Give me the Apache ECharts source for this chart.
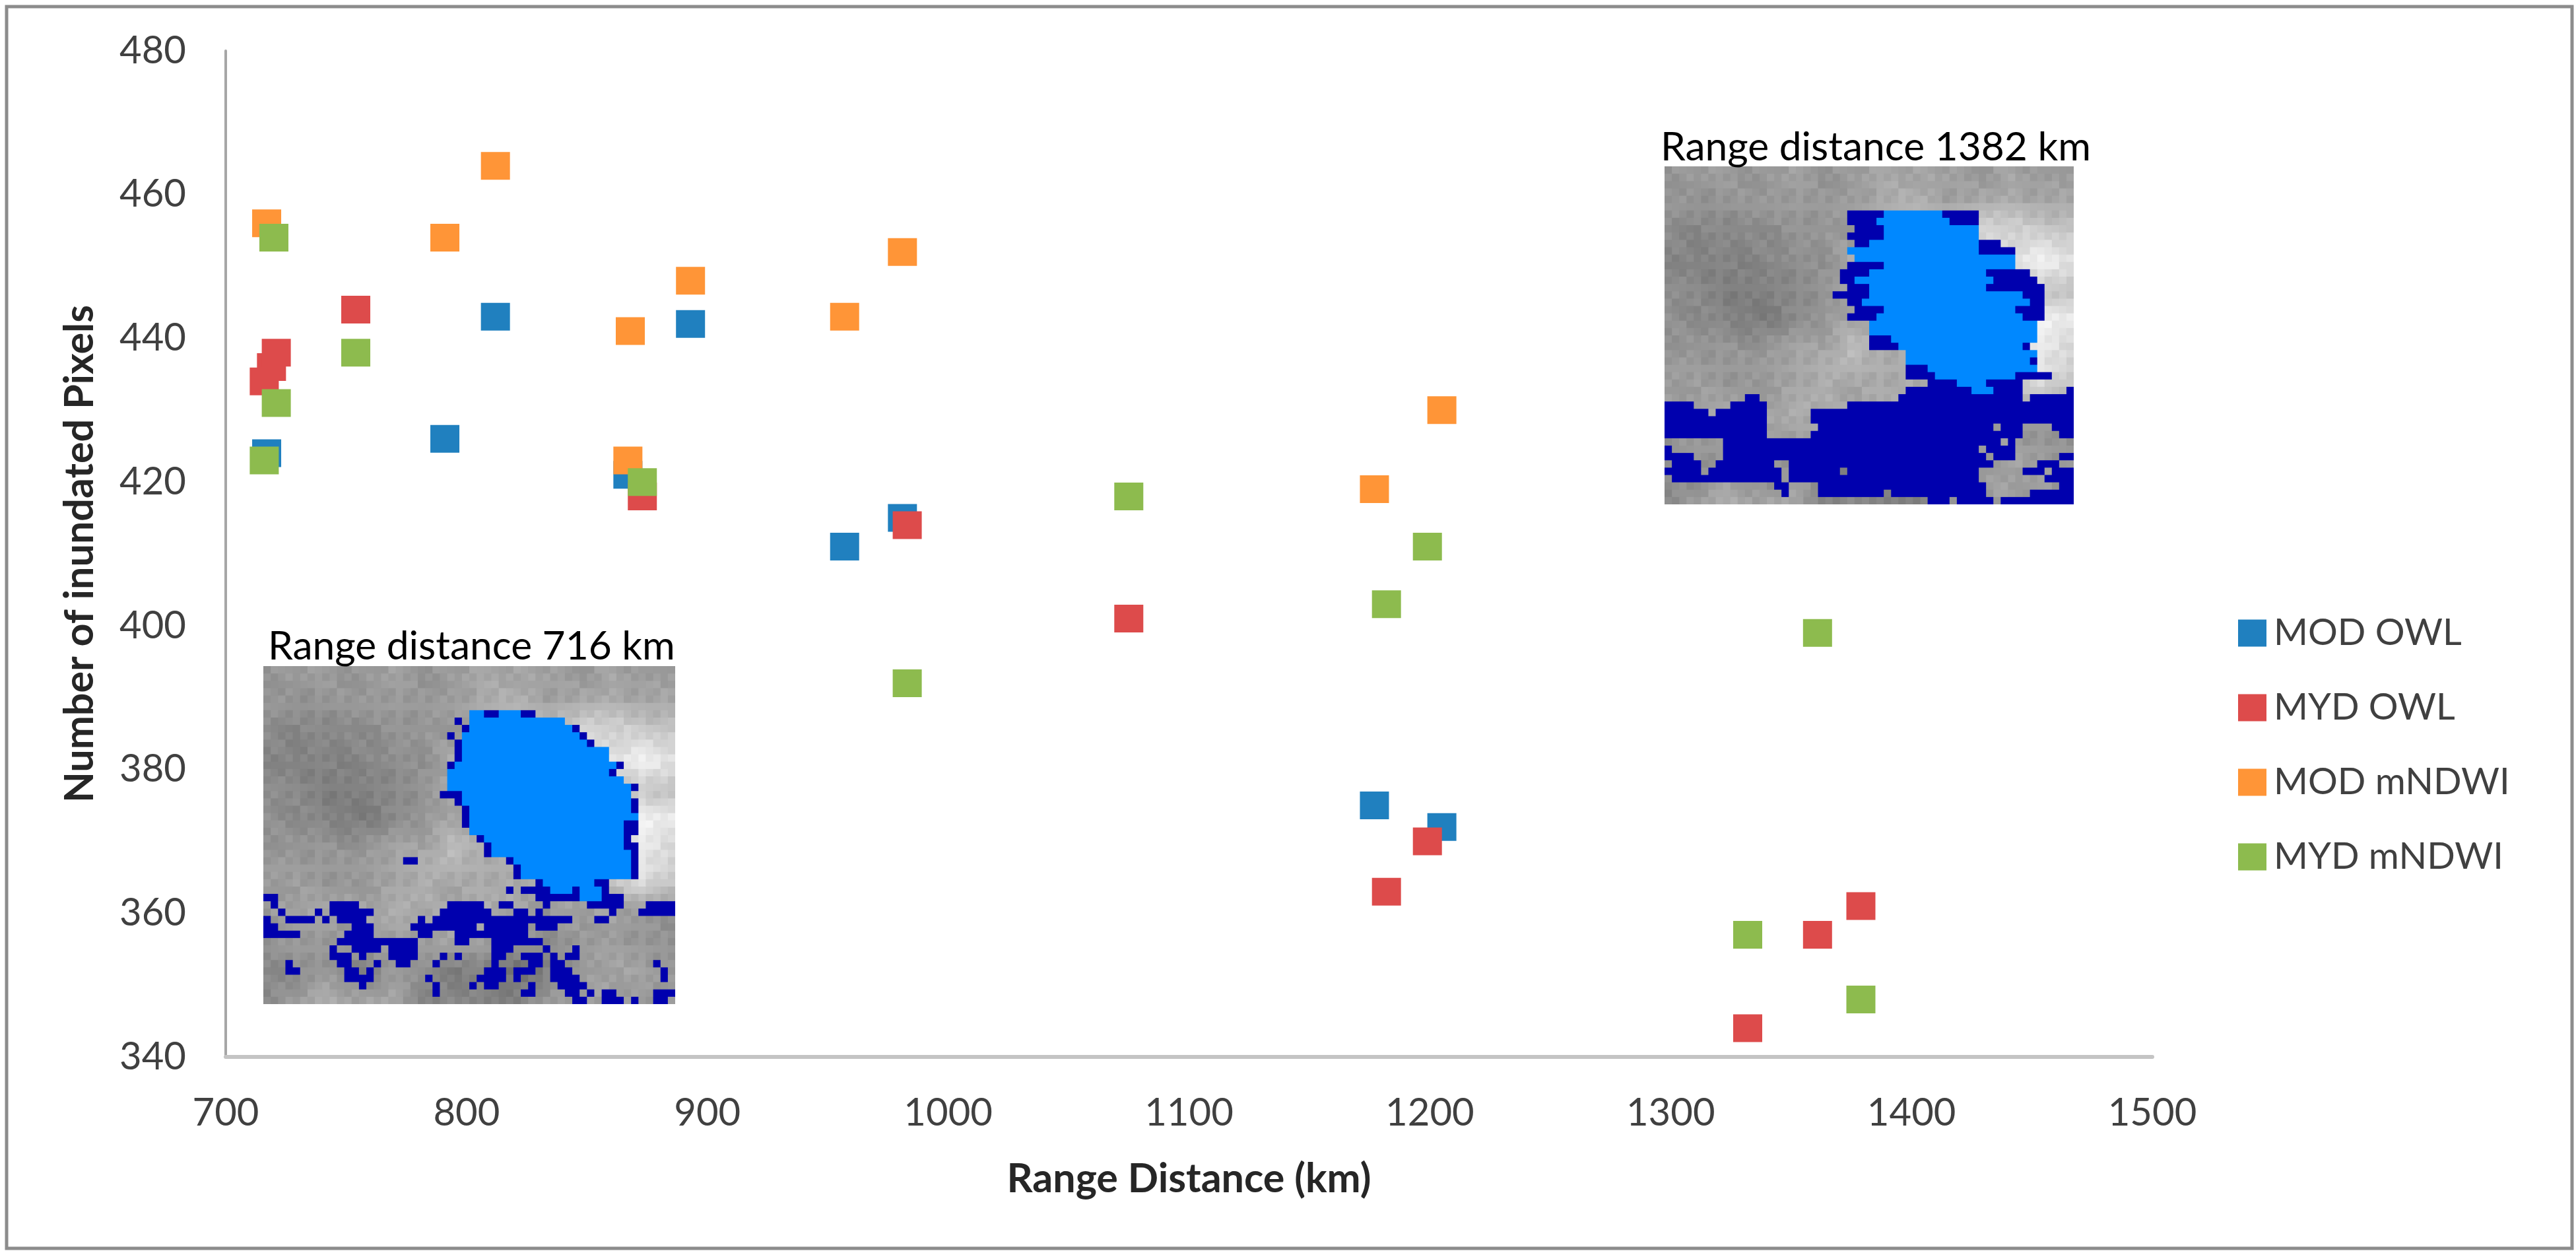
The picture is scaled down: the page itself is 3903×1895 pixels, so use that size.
<!DOCTYPE html>
<html><head><meta charset="utf-8">
<style>html,body{margin:0;padding:0;background:#fff}#c{width:3903px;height:1895px}</style>
<script src="https://cdn.jsdelivr.net/npm/echarts@6/dist/echarts.min.js"></script>
</head><body><div id="c"></div>
<script>
const seriesNames = ['MOD OWL','MYD OWL','MOD mNDWI','MYD mNDWI'];
const modOwl = [[717,424],[791,426],[812,443],[867,421],[893,442],[957,411],[981,415],[1177,375],[1205,372]];
const mydOwl = [[716,434],[719,436],[721,438],[754,444],[873,418],[983,414],[1075,401],[1182,363],[1199,370],[1332,344],[1361,357],[1379,361]];
const modNdwi = [[717,456],[791,454],[812,464],[868,441],[867,423],[893,448],[957,443],[981,452],[1177,419],[1205,430]];
const mydNdwi = [[720,454],[721,431],[716,423],[754,438],[873,420],[983,392],[1075,418],[1182,403],[1199,411],[1332,357],[1361,399],[1379,348]];
const seriesValues = [modOwl, mydOwl, modNdwi, mydNdwi];
const seriesColors = ['#2080BF','#DD4B4B','#FF9537','#8DBB4E'];
const insetTitles = ['Range distance 1382 km','Range distance 716 km'];

// Satellite picture background: coarse grey levels
const greyLevels = [
[150,155,155,150,160,150,155,165,165,160,150,165,150,160],
[150,145,150,150,155,150,155,170,175,160,165,170,165,165],
[140,135,135,140,145,150,155,165,180,190,215,215,200,195],
[135,130,130,135,140,145,170,160,160,160,180,220,240,230],
[140,135,125,125,135,145,165,150,150,155,170,190,200,190],
[145,140,130,125,135,150,170,160,155,160,170,200,240,235],
[150,150,150,150,165,165,190,170,165,165,180,200,230,215],
[155,155,150,150,160,175,165,170,170,170,175,190,225,200],
[155,165,160,165,170,170,165,170,165,150,160,165,150,145],
[145,155,150,150,160,155,165,160,150,140,150,155,150,145],
[135,140,150,130,150,145,125,130,110,130,150,165,160,150],
[140,155,175,160,165,135,135,130,130,150,160,160,150,155]];

// Classified pixels, one entry per picture row from row 6: Dfrom-to dark water, Lfrom-to lake
const inset1382 = [
'D25-30 L30-38 D38-43','D25-29 L29-39 D39-43','D26-30 L30-43','D25-30 L30-43','D26-28 L28-43 D43-46',
'L25-43 D43-48','L26-48','D25-30 L30-48','D24-28 L28-44 D44-50','D24-26 L26-45 D45-51',
'D25-28 L28-44 D44-52','D23-28 L28-49 D49-52','D25-27 L27-50 D50-52','D26-30 L30-48 D48-52','D25-29 L29-49 D49-52',
'L28-51','L28-51','D28-31 L31-51','D28-32 L32-49 D49-50','L33-51',
'L33-50 D50-51','D33-36 L36-51','D33-37 L37-48 D48-53','D36-40 L40-44 D44-49','D33-42 L42-45 D45-49 D55-56',
'D11-13 D32-49 D50-56','D0-4 D9-14 D25-56','D0-6 D7-14 D20-56','D0-14 D20-56','D0-14 D21-45 D46-49 D53-56',
'D0-14 D20-49 D54-56','D8-46 D47-48','D0-1 D8-43 D44-48','D0-4 D8-44 D45-48 D54-56','D1-5 D7-15 D17-45 D51-54',
'D0-5 D6-16 D17-24 D25-43 D49-52 D53-56','D1-16 D17-43 D52-56','D15-17 D21-44 D54-56','D16-17 D21-30 D31-44 D50-56','D36-39 D40-45 D46-56'];
const inset716 = [
'L28-30 D30-32 L32-35 D35-37','D26-27 L28-41','D27-28 L28-42 D42-43','D25-26 L27-43 D43-44','D26-27 L27-44 D44-45',
'D26-27 L27-47','D26-27 L27-47','D25-26 L26-48 D48-49','L25-47 D47-48','L25-49',
'L25-50 D50-51','D24-27 L27-50','D26-27 L27-50 D50-51','D27-28 L28-50 D50-51','D27-28 L28-51',
'D27-28 L28-49 D49-51','L28-49 D49-51','D29-30 L30-49 D49-50','D30-31 L31-49 D49-51','D30-31 L31-50 D50-51',
'D19-21 D33-34 L34-50 D50-51','D34-35 L35-50 D50-51','D34-35 L35-50 D50-51','D37-38 L38-45 D45-47','D33-34 D35-39 L39-42 D42-43 L43-46 D46-47',
'D0-2 D37-43 L43-46 D46-49','D1-2 D9-13 D25-30 D32-34 D38-39 D44-49 D52-56','D2-3 D7-8 D9-15 D24-31 D34-36 D37-38 D47-48 D51-56','D0-1 D3-7 D8-9 D10-14 D21-22 D23-42 D45-47','D0-2 D12-15 D20-29 D30-36 D37-40',
'D0-5 D11-15 D21-23 D26-36','D10-21 D26-28 D31-38','D9-10 D12-16 D17-21 D31-34 D38-39 D42-43','D9-12 D13-14 D17-21 D24-25 D26-27 D31-33 D35-38 D39-40 D41-43','D3-4 D10-12 D15-16 D18-20 D23-24 D31-32 D36-38 D39-41 D53-54',
'D3-5 D11-13 D14-15 D30-33 D34-37 D39-42 D54-55','D11-15 D22-23 D29-33 D34-35 D39-43 D54-55','D13-14 D23-24 D28-29 D30-32 D36-37 D40-44','D23-24 D35-37 D41-43 D44-45 D46-48 D53-56','D42-44 D46-49 D50-51 D53-55'];

function greyAt(c, r) {
  const u = c / 55 * 13, v = r / 45 * 11;
  const i = Math.min(12, Math.floor(u)), j = Math.min(10, Math.floor(v));
  const a = u - i, b = v - j;
  return (greyLevels[j][i]*(1-a)+greyLevels[j][i+1]*a)*(1-b) + (greyLevels[j+1][i]*(1-a)+greyLevels[j+1][i+1]*a)*b;
}
function makeInset(rows) {
  const cell = 11, cv = document.createElement('canvas');
  cv.width = 56*cell; cv.height = 46*cell;
  const g = cv.getContext('2d');
  for (let r=0;r<46;r++) for (let c=0;c<56;c++) {
    const v = Math.round(greyAt(c,r) + ((c*31+r*17+c*r*7)%11-5)*1.6);
    g.fillStyle = `rgb(${v},${v},${v})`;
    g.fillRect(c*cell,r*cell,cell,cell);
  }
  rows.forEach((row,k)=>{
    row.split(' ').forEach(t=>{
      const [a,b] = t.slice(1).split('-').map(Number);
      g.fillStyle = t[0]==='D' ? '#0000AE' : '#0088FF';
      g.fillRect(a*cell,(k+6)*cell,(b-a)*cell,cell);
    });
  });
  return cv;
}

const FONT = 'Lato';
const chart = echarts.init(document.getElementById('c'));
chart.setOption({
  animation:false,
  backgroundColor:'#fff',
  grid:{left:342,right:642,top:77,bottom:294,containLabel:false},
  xAxis:{type:'value',min:700,max:1500,interval:100,
    name:'Range Distance (km)',nameLocation:'middle',nameGap:155,
    nameTextStyle:{fontFamily:FONT,fontWeight:'bold',fontSize:61,color:'#262626'},
    axisLine:{show:true,onZero:false,lineStyle:{color:'#C4C4C4',width:6}},axisTick:{show:false},splitLine:{show:false},
    axisLabel:{fontFamily:FONT,fontSize:58,color:'#404040',margin:56,formatter:v=>String(v)}},
  yAxis:{type:'value',min:340,max:480,interval:20,
    name:'Number of inundated Pixels',nameLocation:'middle',nameGap:190,nameRotate:90,
    nameTextStyle:{fontFamily:FONT,fontWeight:'bold',fontSize:61,color:'#262626'},
    axisLine:{show:true,onZero:false,lineStyle:{color:'#A6A6A6',width:4}},axisTick:{show:false},splitLine:{show:false},
    axisLabel:{fontFamily:FONT,fontSize:58,color:'#404040',margin:60}},
  legend:{orient:'vertical',left:3386,top:926,itemWidth:43,itemHeight:41,itemGap:57,selectedMode:false,
    icon:'rect',data:seriesNames,textStyle:{fontFamily:FONT,fontSize:56,color:'#404040',padding:[0,0,0,6]}},
  series:seriesNames.map((n,i)=>({name:n,type:'scatter',symbol:'rect',symbolSize:[44,42],
    data:seriesValues[i],itemStyle:{color:seriesColors[i],opacity:1}})),
  graphic:[
    {type:'rect',silent:true,z:-1,shape:{x:10,y:10,width:3887,height:1881},style:{fill:'none',stroke:'#8C8C8C',lineWidth:5}},
    {type:'image',silent:true,style:{image:makeInset(inset1382),x:2522,y:252,width:620,height:512}},
    {type:'image',silent:true,style:{image:makeInset(inset716),x:399,y:1009,width:624,height:512}},
    {type:'text',silent:true,style:{text:insetTitles[0],x:2516,y:254,fontFamily:FONT,fontSize:60.5,fill:'#000',verticalAlign:'bottom'}},
    {type:'text',silent:true,style:{text:insetTitles[1],x:406,y:1010,fontFamily:FONT,fontSize:60.5,fill:'#000',verticalAlign:'bottom'}}
  ]
});
</script></body></html>
